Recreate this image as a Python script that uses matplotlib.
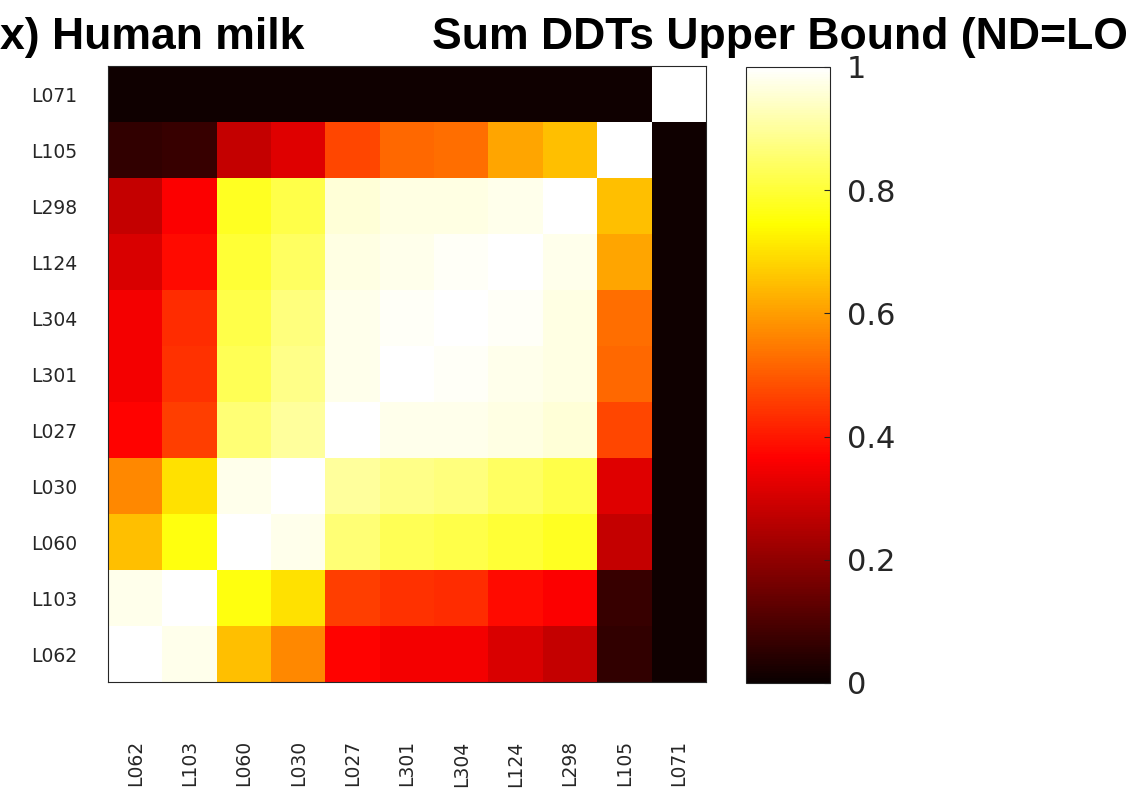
import numpy as np
import matplotlib
matplotlib.use("Agg")
import matplotlib.pyplot as plt

# Sample IDs in matrix order (columns left->right, rows bottom->top)
labels = ["L062", "L103", "L060", "L030", "L027", "L301",
          "L304", "L124", "L298", "L105", "L071"]

# Symmetric correlation matrix (row i, column j follow `labels` order)
row_L062 = [1.00, 0.98, 0.65, 0.57, 0.37, 0.35, 0.35, 0.31, 0.28, 0.06, 0.01]
row_L103 = [0.98, 1.00, 0.76, 0.70, 0.46, 0.44, 0.43, 0.38, 0.36, 0.07, 0.01]
row_L060 = [0.65, 0.76, 1.00, 0.98, 0.86, 0.83, 0.82, 0.80, 0.78, 0.28, 0.01]
row_L030 = [0.57, 0.70, 0.98, 1.00, 0.90, 0.88, 0.87, 0.84, 0.82, 0.32, 0.01]
row_L027 = [0.37, 0.46, 0.86, 0.90, 1.00, 0.98, 0.98, 0.97, 0.96, 0.47, 0.01]
row_L301 = [0.35, 0.44, 0.83, 0.88, 0.98, 1.00, 0.99, 0.98, 0.97, 0.52, 0.01]
row_L304 = [0.35, 0.43, 0.82, 0.87, 0.98, 0.99, 1.00, 0.99, 0.97, 0.53, 0.01]
row_L124 = [0.31, 0.38, 0.80, 0.84, 0.97, 0.98, 0.99, 1.00, 0.98, 0.61, 0.01]
row_L298 = [0.28, 0.36, 0.78, 0.82, 0.96, 0.97, 0.97, 0.98, 1.00, 0.65, 0.01]
row_L105 = [0.06, 0.07, 0.28, 0.32, 0.47, 0.52, 0.53, 0.61, 0.65, 1.00, 0.01]
row_L071 = [0.01, 0.01, 0.01, 0.01, 0.01, 0.01, 0.01, 0.01, 0.01, 0.01, 1.00]

matrix = np.array([row_L062, row_L103, row_L060, row_L030, row_L027, row_L301,
                   row_L304, row_L124, row_L298, row_L105, row_L071])

cbar_ticks = [0, 0.2, 0.4, 0.6, 0.8, 1]
cbar_ticklabels = ["0", "0.2", "0.4", "0.6", "0.8", "1"]
title_left = "x) Human milk"
title_right = "Sum DDTs Upper Bound (ND=LO"

W, H = 1141, 798
fig = plt.figure(figsize=(W / 100, H / 100), dpi=100)

ax = fig.add_axes([108 / W, 1 - 682 / H, (706 - 108) / W, (682 - 66) / H])
im = ax.imshow(matrix, cmap="hot", vmin=0, vmax=1, origin="lower",
               aspect="auto", interpolation="nearest")
n = len(labels)
ax.set_xticks(np.arange(n))
ax.set_yticks(np.arange(n))
ax.set_xticklabels(labels, rotation=90, fontsize=13.5, color="#262626")
ax.set_yticklabels(labels, fontsize=13.5, color="#262626")
ax.tick_params(axis="x", length=0, pad=42)
ax.tick_params(axis="y", length=0, pad=22)
for s in ax.spines.values():
    s.set_linewidth(0.8)
    s.set_color("#262626")

cax = fig.add_axes([746 / W, 1 - 683 / H, (830 - 746) / W, (683 - 67) / H])
cb = fig.colorbar(im, cax=cax, ticks=cbar_ticks)
cb.ax.set_yticklabels(cbar_ticklabels)
cb.ax.tick_params(direction="in", length=4, width=0.8, labelsize=22,
                  labelcolor="#262626", color="#262626", pad=12)
cb.outline.set_linewidth(0.8)
cb.outline.set_edgecolor("#262626")

fig.text(0, 1 - 49 / H, title_left, fontsize=32, fontweight="bold",
         family="Liberation Sans", ha="left", va="baseline", color="black")
fig.text(432 / W, 1 - 49 / H, title_right, fontsize=32, fontweight="bold",
         family="Liberation Sans", ha="left", va="baseline", color="black")

fig.savefig("out.png", dpi=100)
